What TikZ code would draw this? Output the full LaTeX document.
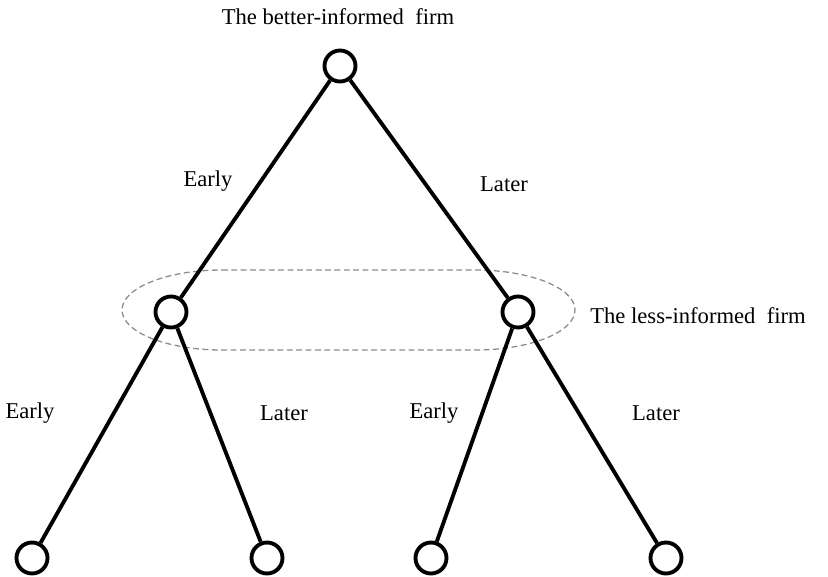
\documentclass[tikz,border=0pt]{standalone}
\usepackage{fontspec}
\setmainfont{Liberation Serif}
\usetikzlibrary{calc}
\definecolor{NodeClr}{rgb}{0,0,0}
\definecolor{SetClr}{rgb}{0.55,0.55,0.55}

\begin{document}
\begin{tikzpicture}[x=0.03cm,y=-0.03cm,
  decision/.style={circle,draw=NodeClr,line width=3.3pt,fill=white,minimum size=0.93cm,inner sep=0pt},
  branch/.style={line width=3.3pt,color=NodeClr},
  infoset/.style={draw=SetClr,line width=1.1pt,dash pattern=on 5pt off 3pt},
  lbl/.style={font=\fontsize{19.3}{22}\selectfont,inner sep=0pt}]
\useasboundingbox (0,0) rectangle (828,576);

% information set of the less-informed firm
\draw[infoset] (222,270) -- (475,270) arc[start angle=-90,end angle=90,x radius=100,y radius=40]
  -- (222,350) arc[start angle=90,end angle=270,x radius=100,y radius=40] -- cycle;

\node[decision] (root) at (340,66) {};
\node[decision] (midL) at (171,312) {};
\node[decision] (midR) at (518,312) {};
\node[decision] (leafA) at (32,558) {};
\node[decision] (leafB) at (267,558) {};
\node[decision] (leafC) at (431,558) {};
\node[decision] (leafD) at (666,558) {};

\draw[branch] (root) -- (midL);
\draw[branch] (root) -- (midR);
\draw[branch] (midL) -- (leafA);
\draw[branch] (midL) -- (leafB);
\draw[branch] (midR) -- (leafC);
\draw[branch] (midR) -- (leafD);

\node[lbl] (top) at (338,17) {The better-informed\ \ firm};
\node[lbl] (less) at (698,316) {The less-informed\ \ firm};
\node[lbl] (e1) at (208,181) {Early};
\node[lbl] (l1) at (504,184) {Later};
\node[lbl] (e2) at (30,413) {Early};
\node[lbl] (l2) at (284,413) {Later};
\node[lbl] (e3) at (434,413) {Early};
\node[lbl] (l3) at (656,413) {Later};

\end{tikzpicture}
\end{document}
